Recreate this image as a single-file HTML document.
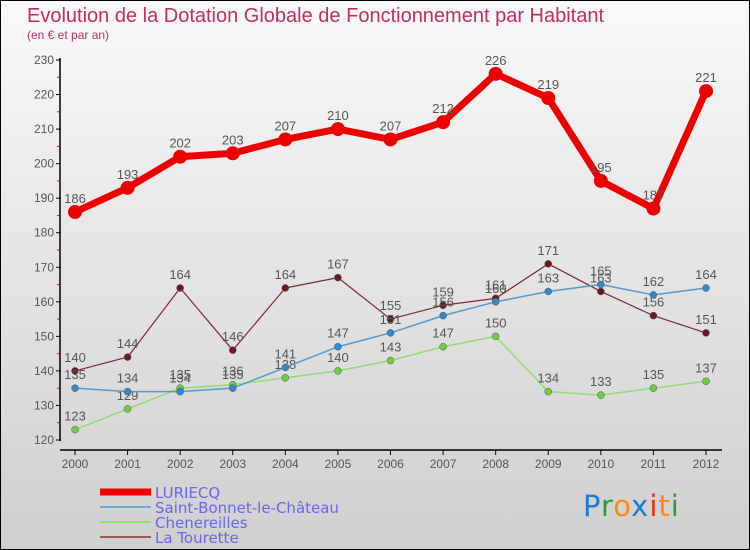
<!DOCTYPE html>
<html><head><meta charset="utf-8"><style>
html,body{margin:0;padding:0}
body{width:750px;height:550px;overflow:hidden;font-family:"DejaVu Sans","Liberation Sans",sans-serif}
#wrap{position:relative;width:748px;height:548px;border:1px solid #000;background:linear-gradient(#f9f9f9,#cfcfcf)}
#title{position:absolute;left:26px;top:4px;font-size:20px;color:#c2305c;font-family:"Liberation Sans",sans-serif}
#sub{position:absolute;left:26px;top:27px;font-size:12px;color:#c2305c;font-family:"Liberation Sans",sans-serif}
</style></head><body>
<div id="wrap">
<div id="title">Evolution de la Dotation Globale de Fonctionnement par Habitant</div>
<div id="sub">(en € et par an)</div>
<svg id="svg" width="750" height="550" style="position:absolute;left:-1px;top:-1px"></svg>
</div>
<script>
const years=[2000,2001,2002,2003,2004,2005,2006,2007,2008,2009,2010,2011,2012];
const yTicks=[120,130,140,150,160,170,180,190,200,210,220,230];
const luriecq=[186,193,202,203,207,210,207,212,226,219,195,187,221];
const stBonnet=[135,134,134,135,141,147,151,156,160,163,165,162,164];
const chenereilles=[123,129,135,136,138,140,143,147,150,134,133,135,137];
const tourette=[140,144,164,146,164,167,155,159,161,171,163,156,151];
const seriesNames=["LURIECQ","Saint-Bonnet-le-Château","Chenereilles","La Tourette"];

const NS="http://www.w3.org/2000/svg";
const svg=document.getElementById('svg');
function X(i){return 75+i*(706-75)/12;}
function Y(v){return 60+(230-v)*(380/110);}
function mk(t,a,p){const e=document.createElementNS(NS,t);for(const k in a)e.setAttribute(k,a[k]);(p||svg).appendChild(e);return e;}

const ax=mk('g',{});


mk('line',{x1:60,y1:58,x2:60,y2:441,stroke:'#000','stroke-width':1.5},ax);
mk('line',{x1:60,y1:450,x2:722,y2:450,stroke:'#000','stroke-width':1.5},ax);
yTicks.forEach(v=>{
  mk('line',{x1:56,y1:Y(v),x2:61,y2:Y(v),stroke:'#000'},ax);
  const t=mk('text',{x:54,y:Y(v)+4,'text-anchor':'end','font-size':12,fill:'#555','font-family':'Liberation Sans,sans-serif'},ax);
  t.textContent=v;
  
  
  if(v<230) mk('line',{x1:57,y1:Y(v+5),x2:60,y2:Y(v+5),stroke:'#e00'},ax);
});
years.forEach((yr,i)=>{
  mk('line',{x1:X(i),y1:450,x2:X(i),y2:455,stroke:'#000'},ax);
  const t=mk('text',{x:X(i),y:468,'text-anchor':'middle','font-size':12,fill:'#555','font-family':'Liberation Sans,sans-serif'},ax);
  t.textContent=yr;
  
  
});

function series(data,color,w,r,dot,name){
  const g=mk('g',{});
  
  
  mk('polyline',{points:data.map((v,i)=>X(i)+','+Y(v)).join(' '),fill:'none',stroke:color,'stroke-width':w,'stroke-linejoin':'round'},g);
  data.forEach((v,i)=>{
    const c=mk('circle',{cx:X(i),cy:Y(v),r:r,fill:dot,stroke:color==='#e00'?'none':'#555','stroke-width':0.5},g);
    
    
    const t=mk('text',{x:X(i),y:Y(v)-9,'text-anchor':'middle','font-size':13,fill:'#555','font-family':'Liberation Sans,sans-serif'},g);
    t.textContent=v;
    
    
  });
}
series(tourette,'#7a2a30',1.2,3.5,'#6a1a20','la-tourette-series');
series(chenereilles,'#90dd70',1.5,3.5,'#70cc40','chenereilles-series');
series(stBonnet,'#5599cc',1.5,3.5,'#3388cc','saint-bonnet-series');
series(luriecq,'#e00',7,7,'#e00','luriecq-series');

const lg=mk('g',{});


const lc=['#e00','#6aa8d8','#90dd70','#9a5a5a'];const lw=[7,2,2,2];
seriesNames.forEach((n,i)=>{
  const y=492+i*15;
  const e=mk('g',{},lg);
  
  
  mk('line',{x1:100,y1:y,x2:151,y2:y,stroke:lc[i],'stroke-width':lw[i]},e);
  const t=mk('text',{x:155,y:y+6,'font-size':15,fill:'#6666ee','font-family':'DejaVu Sans,sans-serif'},e);
  t.textContent=n;
});
const lo=mk('text',{x:583,y:516,'font-size':29,'letter-spacing':1,'font-family':'DejaVu Sans,sans-serif'});


[['P','#1a7ad0'],['r','#2a9a3a'],['o','#ff8a00'],['x','#1a7ad0'],['i','#e83010'],['t','#ff8a00'],['i','#2a9a3a']].forEach(([c,f])=>{const s=mk('tspan',{fill:f},lo);s.textContent=c;});
</script>
</body></html>
